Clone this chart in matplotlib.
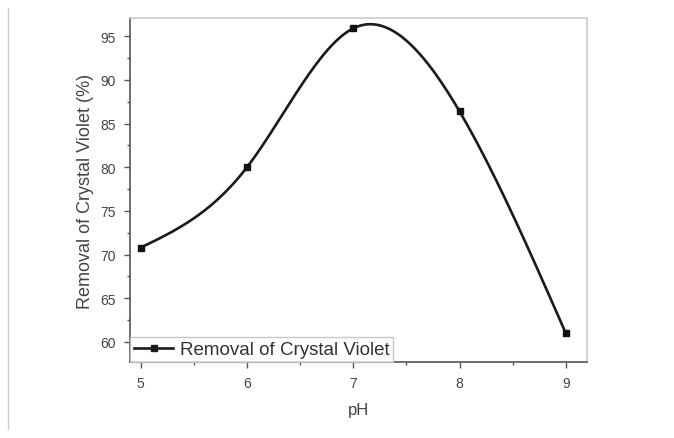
import numpy as np
import matplotlib
matplotlib.use("Agg")
import matplotlib.pyplot as plt
from matplotlib.lines import Line2D

ph = [5, 6, 7, 8, 9]
removal = [70.8, 80.0, 95.9, 86.4, 61.0]


def natural_spline(x, y, xs):
    x = np.asarray(x, float)
    y = np.asarray(y, float)
    n = len(x)
    h = np.diff(x)
    A = np.zeros((n, n))
    b = np.zeros(n)
    A[0, 0] = A[-1, -1] = 1
    for i in range(1, n - 1):
        A[i, i - 1] = h[i - 1]
        A[i, i] = 2 * (h[i - 1] + h[i])
        A[i, i + 1] = h[i]
        b[i] = 3 * ((y[i + 1] - y[i]) / h[i] - (y[i] - y[i - 1]) / h[i - 1])
    c = np.linalg.solve(A, b)
    out = np.empty_like(xs)
    for k, xv in enumerate(xs):
        i = min(max(np.searchsorted(x, xv) - 1, 0), n - 2)
        dx = xv - x[i]
        bi = (y[i + 1] - y[i]) / h[i] - h[i] * (2 * c[i] + c[i + 1]) / 3
        di = (c[i + 1] - c[i]) / (3 * h[i])
        out[k] = y[i] + bi * dx + c[i] * dx ** 2 + di * dx ** 3
    return out


plt.rcParams['font.family'] = ['Liberation Sans', 'DejaVu Sans']

fig = plt.figure(figsize=(6.74, 4.39), dpi=100)
ax = fig.add_axes([0.193, 0.173, 0.678, 0.784])

xs = np.linspace(5, 9, 300)
ax.plot(xs, natural_spline(ph, removal, xs), color='#1a1a1a', lw=1.9)
ax.plot(ph, removal, 's', color='#111111', ms=5)

ax.set_xlim(4.9, 9.2)
ax.set_ylim(57.7, 97.1)
ax.set_xticks(ph)
ax.set_yticks([60, 65, 70, 75, 80, 85, 90, 95])
ax.set_xticks(np.arange(5.5, 9, 1), minor=True)
ax.set_yticks(np.arange(62.5, 97, 5), minor=True)
ax.tick_params(which='both', direction='out', color='#555555', labelcolor='#444444',
               labelsize=10, top=False, right=False)
ax.tick_params(which='major', length=4.5, width=1)
ax.tick_params(which='minor', length=2.5, width=1)
ax.tick_params(axis='x', pad=5.5)
ax.tick_params(axis='y', pad=6)
for s in ['left', 'bottom']:
    ax.spines[s].set_color('#555555')
    ax.spines[s].set_linewidth(1.2)
for s in ['top', 'right']:
    ax.spines[s].set_color('#cccccc')
    ax.spines[s].set_linewidth(1.2)

ax.set_xlabel('pH', fontsize=12, color='#444444', labelpad=9)
ax.set_ylabel('Removal of Crystal Violet (%)', fontsize=13, color='#444444', labelpad=4)

handle = Line2D([], [], color='#1a1a1a', lw=1.9, marker='s', ms=5)
leg = ax.legend([handle], ['Removal of Crystal Violet'], loc='lower left',
                bbox_to_anchor=(0, 0), borderaxespad=0, fontsize=13.5, frameon=True,
                fancybox=False, handlelength=2.1, borderpad=0.2, handletextpad=0.35,
                labelcolor='#333333')
leg.get_frame().set_edgecolor('#bbbbbb')
leg.get_frame().set_linewidth(1)

fig.add_artist(Line2D([8 / 674, 8 / 674], [0.02, 0.98], color='#cccccc', lw=1))

fig.savefig('out.png', dpi=100)
